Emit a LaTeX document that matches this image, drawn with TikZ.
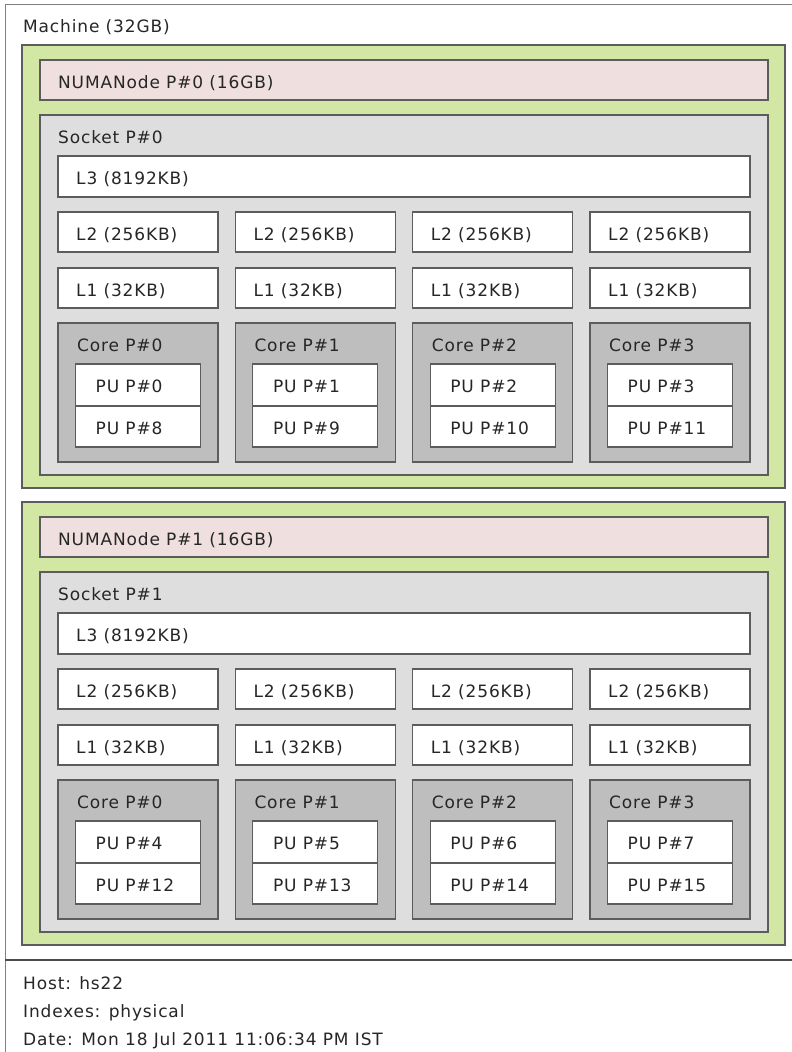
\documentclass[tikz,border=0pt]{standalone}
\usepackage{fontspec}
\newfontfamily\lsfont[LetterSpace=5]{DejaVu Sans}
\definecolor{grp}{HTML}{D2E7A4}
\definecolor{numa}{HTML}{EFDFDE}
\definecolor{sock}{HTML}{DEDEDE}
\definecolor{core}{HTML}{BEBEBE}
\definecolor{edge}{HTML}{5C5C5C}
\tikzset{
  hwbase/.style={draw=edge, line width=1.3pt, rectangle, inner sep=0pt, outer sep=0pt},
  grpbox/.style={hwbase, fill=grp},
  numabox/.style={hwbase, fill=numa},
  sockbox/.style={hwbase, fill=sock},
  cachebox/.style={hwbase, fill=white},
  corebox/.style={hwbase, fill=core},
  pubox/.style={hwbase, fill=white},
  lbl/.style={font=\lsfont\fontsize{17pt}{20pt}\selectfont, text=black!85, anchor=base west, inner sep=0pt},
  machline/.style={draw=black!50, line width=1pt},
  sepline/.style={draw=black!70, line width=1.2pt}
}
% name, style, x, y, width, height, text
\newcommand{\hw}[7]{%
  \node[#2, minimum width=#5pt, minimum height=#6pt, anchor=north west] (#1) at (#3,#4) {};
  \node[lbl] (#1t) at ([xshift=18pt,yshift=-28.5pt]#1.north west) {#7};}
\begin{document}
\begin{tikzpicture}[x=1pt,y=-1pt]
\useasboundingbox[fill=white] (0,0) rectangle (792,1052);
\draw[machline] (5,1052) -- (5,4) -- (792,4);
\node[lbl] (machine) at (23,32) {Machine (32GB)};
\foreach \g/\o in {0/0,1/457}{
  \hw{grp\g}{grpbox}{22}{45+\o}{763}{443}{}
  \hw{numa\g}{numabox}{40}{60+\o}{728}{40}{NUMANode P\#\g{} (16GB)}
  \hw{sock\g}{sockbox}{40}{115+\o}{728}{360}{Socket P\#\g}
  \hw{lthree\g}{cachebox}{58}{156+\o}{692}{41}{L3 (8192KB)}
  \foreach \c in {0,1,2,3}{
    \pgfmathsetmacro\xx{58+177.33*\c}
    \pgfmathsetmacro\px{\xx+17.5}
    \pgfmathtruncatemacro\pa{\c+4*\g}
    \pgfmathtruncatemacro\pb{\c+8+4*\g}
    \hw{ltwo\g\c}{cachebox}{\xx}{212+\o}{160}{40}{L2 (256KB)}
    \hw{lone\g\c}{cachebox}{\xx}{268+\o}{160}{40}{L1 (32KB)}
    \hw{core\g\c}{corebox}{\xx}{323+\o}{160}{139}{\hspace{1pt}Core P\#\c}
    \hw{pua\g\c}{pubox}{\px}{364+\o}{125}{42}{\hspace{2pt}PU P\#\pa}
    \hw{pub\g\c}{pubox}{\px}{406+\o}{125}{41}{\hspace{2pt}PU P\#\pb}
  }
}
\draw[sepline] (5,960) -- (792,960);
\node[lbl] (host) at (23,989) {Host: hs22};
\node[lbl] (idx) at (23,1017) {Indexes: physical};
\node[lbl] (date) at (23,1045) {Date: Mon 18 Jul 2011 11:06:34 PM IST};
\end{tikzpicture}
\end{document}
